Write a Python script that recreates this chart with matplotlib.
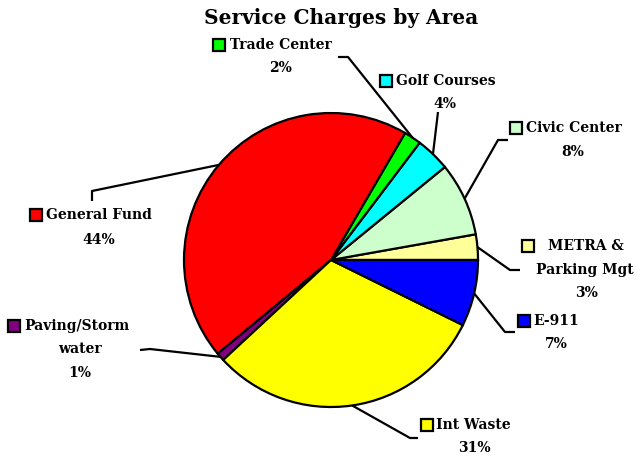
import numpy as np
import matplotlib
matplotlib.use("Agg")
import matplotlib.pyplot as plt

# ---- data ----
categories = ["METRA &\nParking Mgt", "Civic Center", "Golf Courses", "Trade Center",
              "General Fund", "Paving/Storm\nwater", "Int Waste", "E-911"]
values = [2.8, 8.1, 3.8, 1.9, 44.4, 0.9, 30.8, 7.3]
colors = ["#FFFF99", "#CCFFCC", "#00FFFF", "#00FF00", "#FF0000", "#800080", "#FFFF00", "#0000FF"]
title = "Service Charges by Area"

W, H = 635, 458
fig = plt.figure(figsize=(W / 100, H / 100), dpi=100)
ax = fig.add_axes([0, 0, 1, 1])
ax.set_xlim(0, W)
ax.set_ylim(0, H)
ax.set_aspect("equal")
ax.axis("off")

def Y(y):
    return H - y

cx, cy, R = 331, 260, 147
wedges, _ = ax.pie(values, colors=colors, startangle=0, counterclock=True,
                   center=(cx, Y(cy)), radius=R,
                   wedgeprops=dict(edgecolor="black", linewidth=1.6))
ax.set_xlim(0, W)
ax.set_ylim(0, H)

FONT = dict(family="DejaVu Serif", weight="bold", fontsize=10, color="black")

# layout per slice: key box (x,y), first-line left x, center x for rest, leader points
layout = [
    dict(key=(528, 246), lines=[(548, 246, "left"), (585, 270, "center"), (587, 293, "center")],
         lead=[(520, 270), (510, 270)]),
    dict(key=(516, 128), lines=[(526, 128, "left"), (573, 152, "center")],
         lead=[(508, 140), (498, 140)]),
    dict(key=(386, 81), lines=[(396, 81, "left"), (445, 104, "center")],
         lead=[(438, 112)]),
    dict(key=(219, 45), lines=[(230, 45, "left"), (281, 68, "center")],
         lead=[(338, 57), (348, 57)]),
    dict(key=(36, 215), lines=[(46, 215, "left"), (99, 240, "center")],
         lead=[(92, 201), (92, 191)]),
    dict(key=(14, 326), lines=[(24, 326, "left"), (80, 349, "center"), (80, 373, "center")],
         lead=[(140, 350), (150, 349)]),
    dict(key=(427, 425), lines=[(436, 425, "left"), (474, 448, "center")],
         lead=[(418, 438), (410, 438)]),
    dict(key=(524, 321), lines=[(533, 321, "left"), (556, 344, "center")],
         lead=[(515, 332), (505, 332)]),
]

for w, cat, val, col, lay in zip(wedges, categories, values, colors, layout):
    mid = np.deg2rad((w.theta1 + w.theta2) / 2)
    ex = cx + R * np.cos(mid)
    ey = Y(cy) + R * np.sin(mid)
    pts = [(x, Y(y)) for x, y in lay["lead"]] + [(ex, ey)]
    xs, ys = zip(*pts)
    ax.plot(xs, ys, color="black", lw=1.6, solid_capstyle="butt", zorder=5)
    kx, ky = lay["key"]
    ax.plot([kx], [Y(ky)], marker="s", markersize=8, markerfacecolor=col,
            markeredgecolor="black", markeredgewidth=1.6, zorder=6)
    text_lines = cat.split("\n") + [f"{val:.0f}%"]
    for (tx, ty, ha), t in zip(lay["lines"], text_lines):
        ax.text(tx, Y(ty), t, ha=ha, va="center", **FONT)

ax.text(341, Y(18), title, ha="center", va="center", family="DejaVu Serif",
        weight="bold", fontsize=14.5, color="black")

fig.savefig("out.png", dpi=100)
